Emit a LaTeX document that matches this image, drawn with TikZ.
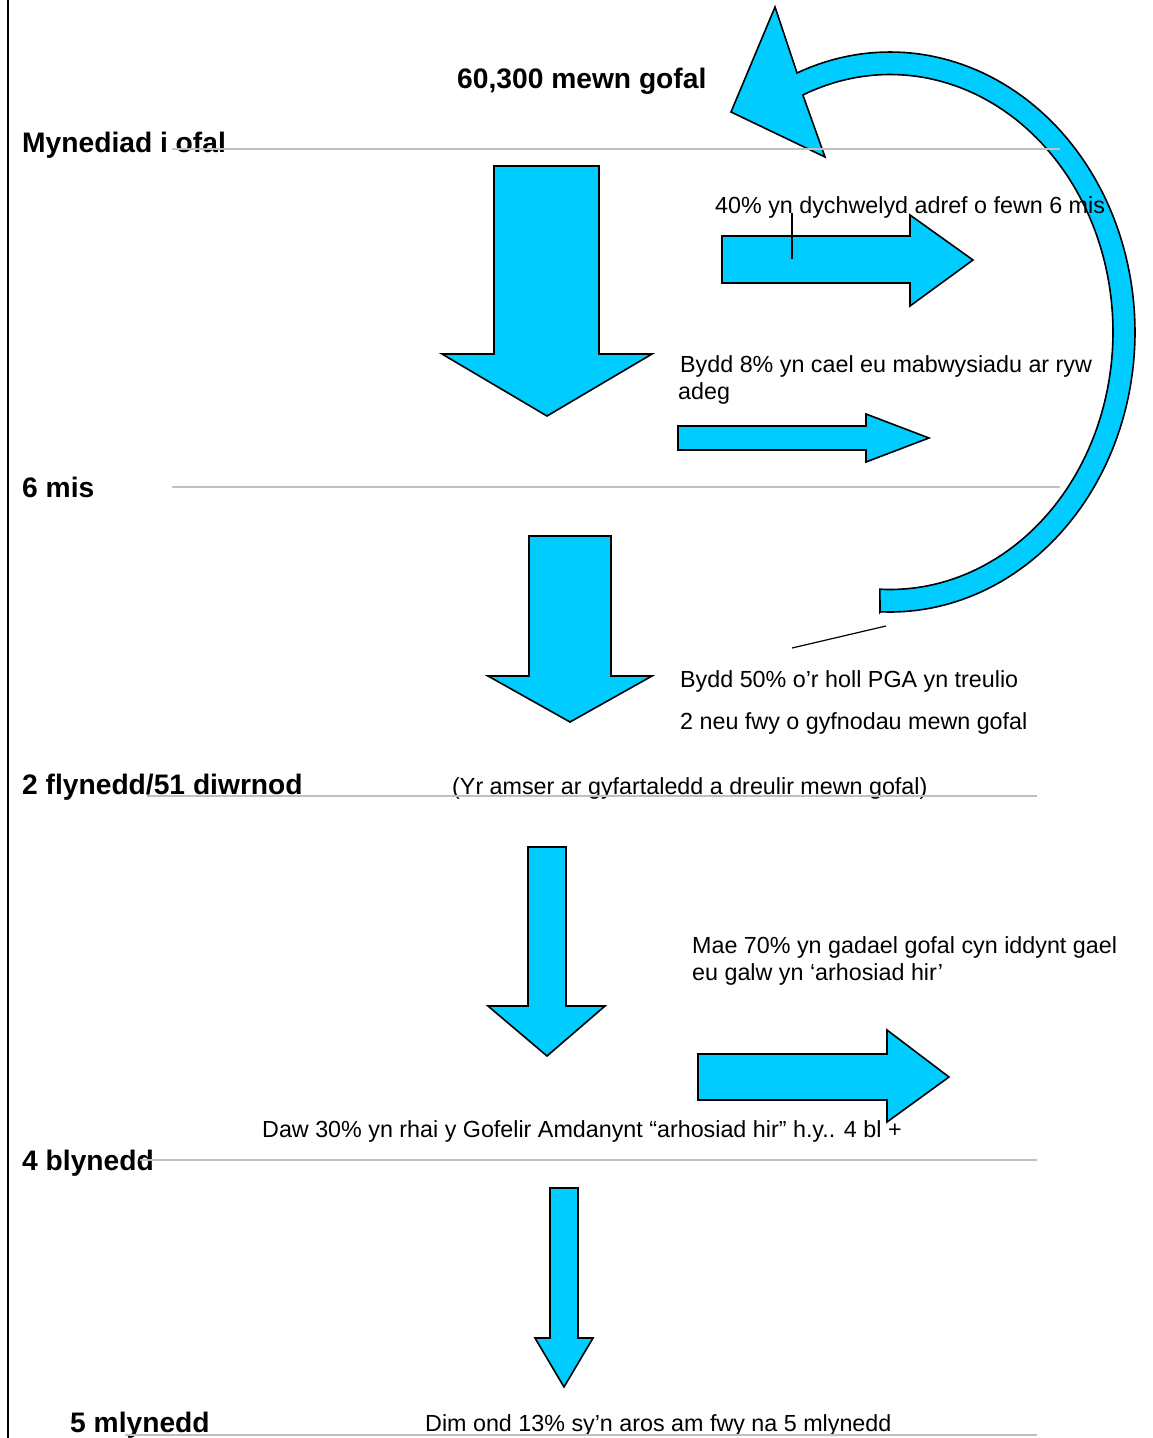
\documentclass[tikz,border=0pt]{standalone}
\usepackage{fontspec}
\setmainfont{Liberation Sans}
\definecolor{cyanfill}{HTML}{00CCFF}
\definecolor{rulegray}{HTML}{C0C0C0}
\begin{document}
\begin{tikzpicture}[x=1pt,y=-1pt,
  bluearrow/.style={fill=cyanfill, draw=black, line width=1.6pt, line join=miter},
  lbl/.style={anchor=base west, inner sep=0pt, font=\fontsize{28.2}{33}\selectfont\bfseries},
  txt/.style={anchor=base west, inner sep=0pt, align=left, font=\fontsize{23.3}{27}\selectfont},
  grayrule/.style={draw=rulegray, line width=2pt},
  thinline/.style={draw=black, line width=1.2pt}]
\path[use as bounding box] (0,0) rectangle (1152,1438);

% left border
\coordinate (bt) at (8,0);
\coordinate (bb) at (8,1438);
\draw[line width=2.2pt] (bt) -- (bb);

% curved return arrow
\draw[bluearrow] (775,7) -- (731,112) -- (825,157)
  -- plot[domain=-113:92.6, samples=120] ({890+223*cos(\x)},{332+257.5*sin(\x)})
  -- (880,612)
  -- plot[domain=92.3:-112.3, samples=120] ({890+245*cos(\x)},{332+280*sin(\x)})
  -- cycle;

% down arrows
\draw[bluearrow] (494,166) -- (599,166) -- (599,354) -- (652,354) -- (547,416) -- (442,354) -- (494,354) -- cycle;
\draw[bluearrow] (529,536) -- (611,536) -- (611,676) -- (652,676) -- (570,722) -- (488,676) -- (529,676) -- cycle;
\draw[bluearrow] (528,847) -- (566,847) -- (566,1006) -- (605,1006) -- (547,1056) -- (488,1006) -- (528,1006) -- cycle;
\draw[bluearrow] (550,1188) -- (578,1188) -- (578,1338) -- (593,1338) -- (564,1387) -- (535,1338) -- (550,1338) -- cycle;

% right arrows
\draw[bluearrow] (722,236) -- (910,236) -- (910,215) -- (973,260) -- (910,306) -- (910,283) -- (722,283) -- cycle;
\draw[bluearrow] (678,426) -- (866,426) -- (866,414) -- (929,438) -- (866,462) -- (866,450) -- (678,450) -- cycle;
\draw[bluearrow] (698,1054) -- (887,1054) -- (887,1030) -- (949,1077) -- (887,1122) -- (887,1100) -- (698,1100) -- cycle;

% bold stage labels
\node[lbl] (total) at (457,88) {60,300 mewn gofal};
\node[lbl] (entry) at (22,152) {Mynediad i ofal};
\node[lbl] (six) at (22,497) {6 mis};
\node[lbl] (two) at (22,794) {2 flynedd/51 diwrnod};
\node[lbl] (four) at (22,1170) {4 blynedd};
\node[lbl] (five) at (70,1432) {5 mlynedd};

% descriptive texts
\node[txt] (home) at (715,213) {40\% yn dychwelyd adref o fewn 6 mis};
\node[txt] (adopt) at (680,372) {Bydd 8\% yn cael eu mabwysiadu ar ryw};
\node[txt] (adopt2) at (678,399) {adeg};
\node[txt] (fifty) at (680,687) {Bydd 50\% o’r holl PGA yn treulio};
\node[txt] (fifty2) at (680,729) {2 neu fwy o gyfnodau mewn gofal};
\node[txt] (avg) at (452,794) {(Yr amser ar gyfartaledd a dreulir mewn gofal)};
\node[txt] (leave) at (692,953) {Mae 70\% yn gadael gofal cyn iddynt gael};
\node[txt] (leave2) at (692,980) {eu galw yn ‘arhosiad hir’};
\node[txt] (long) at (262,1137) {Daw 30\% yn rhai y Gofelir Amdanynt “arhosiad hir” h.y.. 4 bl +};
\node[txt] (only) at (425,1431) {Dim ond 13\% sy’n aros am fwy na 5 mlynedd};

% gray timeline rules
\draw[grayrule] (172,149) -- (1060,149);
\draw[grayrule] (172,487) -- (1060,487);
\draw[grayrule] (147,796) -- (1037,796);
\draw[grayrule] (140,1160) -- (1037,1160);
\draw[grayrule] (125,1435) -- (1037,1435);

% thin pointer lines
\coordinate (p1a) at (792,213);
\coordinate (p1b) at (792,259);
\draw[thinline] (p1a) -- (p1b);
\coordinate (p2a) at (792,648);
\coordinate (p2b) at (886,626);
\draw[thinline] (p2a) -- (p2b);
\end{tikzpicture}
\end{document}
